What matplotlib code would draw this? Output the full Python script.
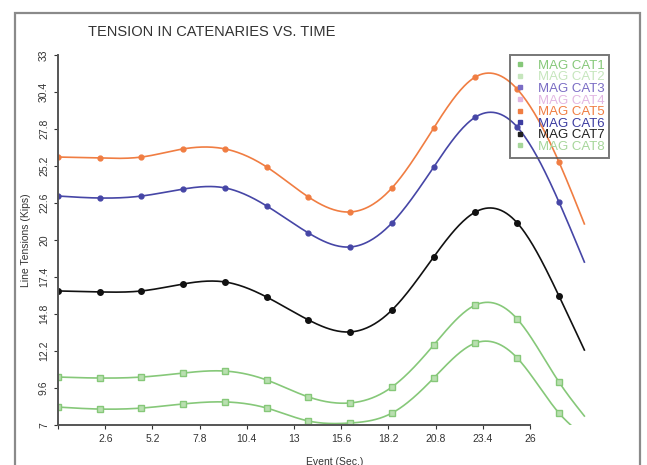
import numpy as np
import matplotlib
matplotlib.use("Agg")
import matplotlib.pyplot as plt
from matplotlib.lines import Line2D
from matplotlib.patches import Rectangle

plt.rcParams['font.family'] = ['Liberation Sans', 'DejaVu Sans']

# event times (sec); the last point is the curve end, drawn without marker
times = [0, 2.3, 4.6, 6.9, 9.2, 11.5, 13.8, 16.1, 18.4, 20.7, 23.0, 25.3, 27.6, 29.0]

cat_orange = [25.83, 25.76, 25.83, 26.40, 26.40, 25.13, 23.02, 21.97, 23.66, 27.87, 31.46, 30.60, 25.48, 21.13]
cat_blue = [23.09, 22.95, 23.09, 23.58, 23.66, 22.39, 20.49, 19.51, 21.20, 25.13, 28.64, 27.94, 22.67, 18.45]
cat_black = [16.42, 16.35, 16.42, 16.91, 17.05, 15.99, 14.38, 13.54, 15.08, 18.81, 21.97, 21.20, 16.07, 12.27]
cat_green_hi = [10.37, 10.30, 10.37, 10.65, 10.79, 10.16, 8.97, 8.55, 9.67, 12.62, 15.43, 14.45, 10.02, 7.63]
cat_green_lo = [8.26, 8.12, 8.19, 8.48, 8.62, 8.19, 7.28, 7.14, 7.84, 10.30, 12.76, 11.71, 7.84, 6.20]

legend_labels = ["MAG CAT1", "MAG CAT2", "MAG CAT3", "MAG CAT4",
                 "MAG CAT5", "MAG CAT6", "MAG CAT7", "MAG CAT8"]
legend_colors = ["#86c879", "#c6e6bd", "#7a6cc4", "#e2b6e2",
                 "#f07d42", "#3c3ca0", "#202020", "#a6d69a"]

xticks = [0, 2.6, 5.2, 7.8, 10.4, 13, 15.6, 18.2, 20.8, 23.4, 26]
yticks = [7, 9.6, 12.2, 14.8, 17.4, 20, 22.6, 25.2, 27.8, 30.4, 33]


def spline(x, y, n=400):
    """Natural cubic spline through the points."""
    x = np.asarray(x, float)
    y = np.asarray(y, float)
    k = len(x)
    h = np.diff(x)
    A = np.zeros((k, k))
    r = np.zeros(k)
    A[0, 0] = A[-1, -1] = 1
    for i in range(1, k - 1):
        A[i, i - 1] = h[i - 1]
        A[i, i] = 2 * (h[i - 1] + h[i])
        A[i, i + 1] = h[i]
        r[i] = 6 * ((y[i + 1] - y[i]) / h[i] - (y[i] - y[i - 1]) / h[i - 1])
    m = np.linalg.solve(A, r)
    xs = np.linspace(x[0], x[-1], n)
    idx = np.clip(np.searchsorted(x, xs) - 1, 0, k - 2)
    x0, x1 = x[idx], x[idx + 1]
    hh = x1 - x0
    a = (x1 - xs) / hh
    b = (xs - x0) / hh
    ys = (a * y[idx] + b * y[idx + 1]
          + ((a ** 3 - a) * m[idx] + (b ** 3 - b) * m[idx + 1]) * hh ** 2 / 6)
    return xs, ys


fig = plt.figure(figsize=(6.47, 4.65), dpi=100)
fig.patches.append(Rectangle((15 / 647, -0.05), 625 / 647, 1.05 - 13 / 465,
                             transform=fig.transFigure, fill=False,
                             edgecolor="#8a8a8a", lw=1.6))
ax = fig.add_axes([58 / 647, 40 / 465, 553.6 / 647, 370 / 465])

series = [
    (cat_orange, "#f07d42", "o", 3.5),
    (cat_blue, "#4646a6", "o", 3.5),
    (cat_black, "#111111", "o", 4),
    (cat_green_hi, "#86c879", "s", 4),
    (cat_green_lo, "#86c879", "s", 4),
]
for vals, col, mk, ms in series:
    xs, ys = spline(times, vals)
    ax.plot(xs, ys, color=col, lw=1.2)
    ax.plot(times[:-1], vals[:-1], ls="none", marker=mk, ms=ms, color=col,
            mfc=col if mk == "o" else "#b9dfb0", mec=col)

ax.set_xlim(0, 30.5)
ax.set_ylim(7, 33)
ax.spines['top'].set_visible(False)
ax.spines['right'].set_visible(False)
ax.spines['bottom'].set_bounds(0, 26)
for s in ("left", "bottom"):
    ax.spines[s].set_color("#555555")
    ax.spines[s].set_linewidth(1.4)

ax.set_xticks(xticks)
ax.set_xticklabels([""] + [f"{t:g}" for t in xticks[1:]])
ax.set_yticks(yticks)
ax.set_yticklabels([f"{t:g}" for t in yticks], rotation=90, va="center")
ax.tick_params(labelsize=7.5, colors="#333333", length=3, width=0.8)
ax.set_xlabel("Event (Sec.)", fontsize=7.5, color="#333333", labelpad=9)
ax.set_ylabel("Line Tensions (Kips)", fontsize=7.5, color="#333333", labelpad=6)

fig.text(212 / 647, 1 - 32 / 465, "TENSION IN CATENARIES VS. TIME",
         ha="center", va="center", fontsize=10.5, color="#333333")

handles = [Line2D([], [], ls="none", marker="s", ms=3, color=c) for c in legend_colors]
leg = ax.legend(handles, legend_labels, loc="upper left",
                bbox_to_anchor=(0.816, 1.0), fontsize=9.5, labelspacing=-0.05,
                handlelength=0.8, handletextpad=1.0, borderpad=0.35,
                fancybox=False, borderaxespad=0)
leg.get_frame().set_facecolor("none")
leg.get_frame().set_edgecolor("#555555")
leg.get_frame().set_linewidth(1.4)
for txt, c in zip(leg.get_texts(), legend_colors):
    txt.set_color(c)

fig.savefig("out.png", dpi=100)
